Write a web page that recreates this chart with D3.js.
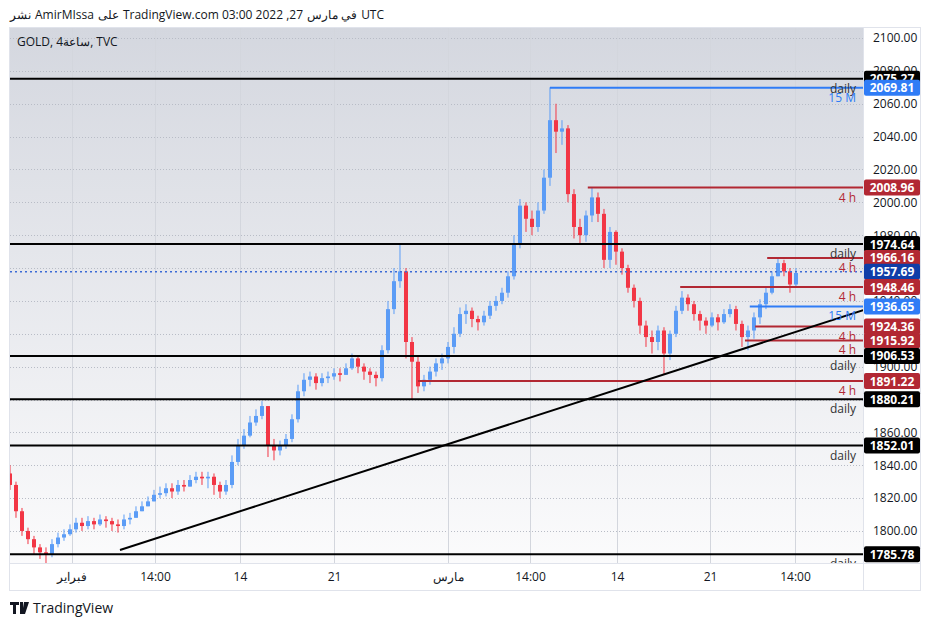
<!DOCTYPE html>
<html><head><meta charset="utf-8">
<script src="https://cdn.jsdelivr.net/npm/d3@7"></script>
<style>body{margin:0;background:#fff;font-family:"Open Sans","Noto Sans",sans-serif}</style>
</head><body><svg id="c" width="938" height="627"></svg>
<script>
const closes=[1828,1812,1800,1795,1790,1787,1786,1792,1796,1798,1801,1805,1803,1806,1804,1807,1806,1804,1803,1807,1808,1812,1815,1818,1822,1823,1826,1824,1828,1827,1831,1833,1832,1833,1828,1824,1828,1842,1852,1858,1866,1870,1876,1852,1849,1852,1856,1868,1885,1892,1894,1890,1893,1894,1896,1895,1899,1905,1900,1897,1895,1893,1910,1935,1952,1958,1915,1903,1888,1892,1897,1902,1905,1912,1920,1932,1934,1929,1927,1931,1937,1940,1945,1955,1975,1998,1990,1985,1995,2015,2050,2043,2045,2005,1985,1980,1992,2003,1993,1965,1982,1970,1960,1948,1940,1925,1918,1915,1922,1908,1920,1934,1942,1938,1932,1928,1925,1930,1927,1932,1935,1926,1918,1922,1930,1938,1945,1955,1963,1958,1950,1957];
const firstOpen=1835;
const highs=[1840,1830,1814,1802,1797,1792,1790,1795,1799,1801,1804,1808,1808,1809,1808,1810,1809,1808,1807,1810,1811,1815,1818,1821,1825,1827,1829,1829,1831,1831,1834,1836,1836,1836,1835,1830,1831,1846,1856,1862,1870,1874,1879,1876,1856,1855,1859,1871,1889,1896,1897,1896,1896,1897,1899,1899,1902,1908,1906,1902,1899,1897,1913,1940,1960,1975,1960,1918,1906,1895,1900,1905,1908,1915,1924,1936,1938,1936,1931,1934,1940,1943,1948,1958,1980,2002,2000,1995,2000,2020,2070,2060,2050,2047,2008,1990,1995,2009,2006,1996,1985,1983,1972,1962,1950,1942,1928,1922,1925,1924,1922,1937,1946,1944,1940,1934,1930,1933,1932,1935,1938,1937,1928,1925,1933,1941,1948,1958,1966,1965,1960,1960];
const lows=[1825,1808,1797,1792,1786,1783,1780,1784,1790,1794,1797,1799,1800,1801,1801,1803,1802,1800,1799,1801,1804,1808,1812,1815,1818,1820,1821,1820,1822,1824,1827,1829,1828,1826,1822,1820,1822,1826,1840,1850,1857,1864,1868,1845,1843,1846,1850,1854,1866,1882,1888,1886,1888,1890,1892,1891,1895,1898,1896,1892,1890,1888,1891,1908,1932,1948,1905,1880,1884,1885,1889,1894,1898,1902,1908,1918,1926,1924,1922,1925,1929,1934,1938,1942,1953,1972,1982,1980,1982,1993,2010,2030,2035,2000,1978,1975,1976,1988,1988,1960,1960,1962,1956,1945,1936,1920,1912,1908,1910,1895,1904,1918,1932,1934,1928,1922,1920,1924,1922,1926,1930,1922,1912,1910,1917,1926,1935,1944,1955,1955,1945,1948];
const priceTicks=[1800,1820,1840,1860,1880,1900,1920,1940,1960,1980,2000,2020,2040,2060,2080,2100];
const timeTickIdx=[10.33,24.17,38.33,54,73,86.67,101.17,116.67,130.83];
const timeTickLabels=["فبراير","14:00","14","21","مارس","14:00","14","21","14:00"];
const dailyLevels=[2075.27,1974.64,1906.53,1880.21,1852.01,1785.78];
const m15Levels=[2069.81,1936.65], m15Start=[90,123.3];
const h4Levels=[2008.96,1966.16,1948.46,1924.36,1915.92,1891.22], h4Start=[96.3,126.2,111.7,124.2,122.5,68];
const lastPrice=1957.69;
const trend=[[18.33,1788.4],[142.2,1934.4]];
const headerParts=["نشر","AmirMIssa","على","TradingView.com 03:00 2022 ,27","في مارس","UTC"];

const svg=d3.select("#c");
const L=10,R=863,T=28,B=563;
const x=d3.scaleLinear().domain([0,142.17]).range([L,R]);
const y=d3.scaleLinear().domain([1780.5,2106.1]).range([B,T]);
const defs=svg.append("defs");
const g=defs.append("linearGradient").attr("id","bg").attr("x1",0).attr("x2",0).attr("y1",0).attr("y2",1);
g.append("stop").attr("offset","0").attr("stop-color","#d4d7df");
g.append("stop").attr("offset","1").attr("stop-color","#fbfbfc");
defs.append("clipPath").attr("id","cp").append("rect").attr("x",L).attr("y",T).attr("width",R-L).attr("height",B-T);
svg.append("rect").attr("x",L).attr("y",T).attr("width",R-L).attr("height",B-T).attr("fill","url(#bg)");
svg.append("rect").attr("x",L).attr("y",B).attr("width",R-L).attr("height",27).attr("fill","#fff");
svg.append("rect").attr("x",9.5).attr("y",27.5).attr("width",911).attr("height",563).attr("fill","none").attr("stroke","#e0e3eb");
svg.append("line").attr("x1",R+0.5).attr("x2",R+0.5).attr("y1",T).attr("y2",590).attr("stroke","#e0e3eb");
svg.append("line").attr("x1",L).attr("x2",920).attr("y1",B+0.5).attr("y2",B+0.5).attr("stroke","#e0e3eb");
const pl=svg.append("g").attr("clip-path","url(#cp)");
pl.selectAll(".hg").data(priceTicks).join("line").attr("x1",L).attr("x2",R).attr("y1",d=>Math.round(y(d))+0.5).attr("y2",d=>Math.round(y(d))+0.5).attr("stroke","#b8bcc6").attr("stroke-dasharray","1,2");
pl.selectAll(".vg").data(timeTickIdx).join("line").attr("x1",d=>Math.round(x(d))+0.5).attr("x2",d=>Math.round(x(d))+0.5).attr("y1",T).attr("y2",B).attr("stroke","#d3d6dd");
const data=closes.map((c,i)=>({i,o:i?closes[i-1]:firstOpen,c,h:highs[i],l:lows[i]}));
const col=d=>d.c>=d.o?"#5b9cf6":"#f23645";
pl.selectAll(".w").data(data).join("line").attr("x1",d=>x(d.i)).attr("x2",d=>x(d.i)).attr("y1",d=>y(d.h)).attr("y2",d=>y(d.l)).attr("stroke",col).attr("stroke-width",1);
pl.selectAll(".b").data(data).join("rect").attr("x",d=>x(d.i)-2).attr("width",4).attr("y",d=>y(Math.max(d.o,d.c))).attr("height",d=>Math.max(1,Math.abs(y(d.o)-y(d.c)))).attr("fill",col);
const lblFont="12px 'Open Sans',sans-serif";
pl.selectAll(".dl").data(dailyLevels).join("line").attr("x1",L).attr("x2",R).attr("y1",d=>y(d)).attr("y2",d=>y(d)).attr("stroke","#000").attr("stroke-width",2);
svg.selectAll(".dt").data(dailyLevels).join("text").attr("x",856).attr("y",d=>y(d)+14).attr("text-anchor","end").attr("fill","#333").style("font",lblFont).text("daily").attr("clip-path","url(#cp)");
pl.selectAll(".ml").data(m15Levels).join("line").attr("x1",(d,i)=>x(m15Start[i])).attr("x2",R).attr("y1",d=>y(d)).attr("y2",d=>y(d)).attr("stroke","#2f7cf6").attr("stroke-width",2);
svg.selectAll(".mt").data(m15Levels).join("text").attr("x",856).attr("y",d=>y(d)+14).attr("text-anchor","end").attr("fill","#2f7cf6").style("font",lblFont).text("15 M");
pl.selectAll(".hl").data(h4Levels).join("line").attr("x1",(d,i)=>x(h4Start[i])).attr("x2",R).attr("y1",d=>y(d)).attr("y2",d=>y(d)).attr("stroke","#b22833").attr("stroke-width",2);
svg.selectAll(".ht").data(h4Levels).join("text").attr("x",856).attr("y",d=>y(d)+14).attr("text-anchor","end").attr("fill","#b22833").style("font",lblFont).text("4 h");
pl.append("line").attr("x1",L).attr("x2",R).attr("y1",y(lastPrice)).attr("y2",y(lastPrice)).attr("stroke","#3c6bd6").attr("stroke-width",1.5).attr("stroke-dasharray","2,3");
pl.append("line").attr("x1",x(trend[0][0])).attr("y1",y(trend[0][1])).attr("x2",x(trend[1][0])).attr("y2",y(trend[1][1])).attr("stroke","#000").attr("stroke-width",2);
const ya=svg.append("g").attr("transform",`translate(${R},0)`).call(d3.axisRight(y).tickValues(priceTicks).tickFormat(d3.format(".2f")).tickSize(0).tickPadding(10));
ya.select(".domain").remove();
ya.selectAll("text").attr("fill","#131722").style("font","12px 'Open Sans',sans-serif");
const xa=svg.append("g").attr("transform",`translate(0,${B})`).call(d3.axisBottom(x).tickValues(timeTickIdx).tickFormat((d,i)=>timeTickLabels[i]).tickSize(0).tickPadding(9));
xa.select(".domain").remove();
xa.selectAll("text").attr("fill","#131722").style("font","12px 'Open Sans',sans-serif");
const tags=[[2075.27,"#000"],[2069.81,"#2f7cf6"],[2008.96,"#b22833"],[1974.64,"#000"],[1966.16,"#b22833"],[1957.69,"#0f3ea8"],[1948.46,"#b22833"],[1936.65,"#2f7cf6"],[1924.36,"#b22833"],[1915.92,"#b22833"],[1906.53,"#000"],[1891.22,"#b22833"],[1880.21,"#000"],[1852.01,"#000"],[1785.78,"#000"]];
const tg=svg.append("g");
tags.forEach(([v,c])=>{const yy=y(v);
 tg.append("rect").attr("x",R+1).attr("y",yy-8).attr("width",56).attr("height",16).attr("rx",2).attr("fill",c);
 tg.append("text").attr("x",R+29).attr("y",yy+4.5).attr("text-anchor","middle").attr("fill","#fff").style("font","bold 12px 'Open Sans',sans-serif").text(d3.format(".2f")(v));});
svg.append("rect").attr("x",R+1).attr("y",0).attr("width",70).attr("height",T-1).attr("fill","#fff");
let hx=10;
headerParts.forEach(p=>{const t=svg.append("text").attr("x",hx).attr("y",19).attr("fill","#131722").style("font","12px 'Open Sans',sans-serif").text(p);
 hx+=t.node().getComputedTextLength()+4;});
svg.append("text").attr("x",17).attr("y",46).attr("fill","#131722").style("font","12px 'Open Sans',sans-serif").text("GOLD, 4ساعة, TVC");
const fg=svg.append("g").attr("transform","translate(10,602)");
fg.append("path").attr("d","M0 0H9V3H6V12H3V3H0Z M10 0H13V12H10Z M14 0H19L15 12H12Z").attr("fill","#131722");
svg.append("text").attr("x",33).attr("y",613).attr("fill","#131722").style("font","14px 'Open Sans',sans-serif").text("TradingView");
</script></body></html>
